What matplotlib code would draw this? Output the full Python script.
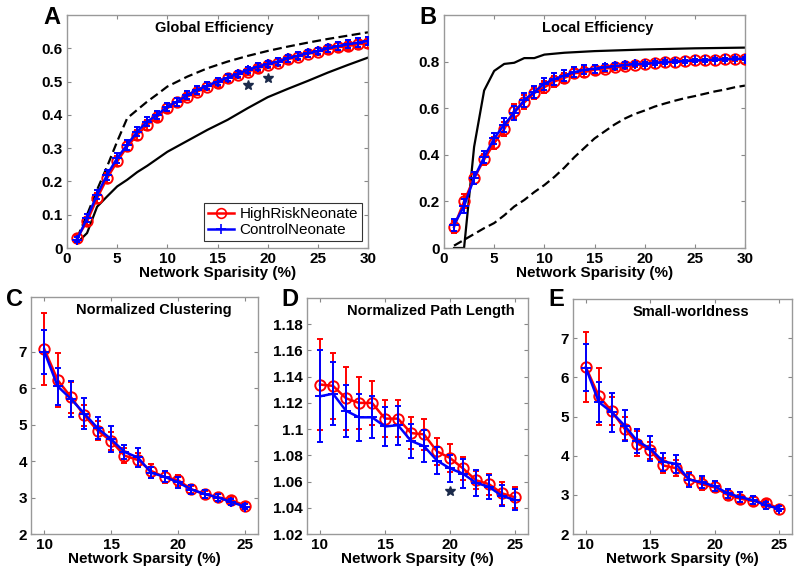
import matplotlib

matplotlib.use("Agg")
import matplotlib.pyplot as plt
from matplotlib.lines import Line2D
from matplotlib.ticker import FormatStrFormatter

plt.rcParams["font.family"] = ["Liberation Sans", "DejaVu Sans"]

# ---- data -------------------------------------------------------------
x_top = list(range(1, 31))
x_bot = list(range(10, 26))

ge_high = [0.03, 0.08, 0.15, 0.21, 0.26, 0.305, 0.34, 0.37, 0.395, 0.42,
           0.44, 0.455, 0.47, 0.485, 0.495, 0.51, 0.52, 0.53, 0.54, 0.55,
           0.557, 0.567, 0.575, 0.583, 0.59, 0.597, 0.603, 0.607, 0.612, 0.615]
ge_ctrl = [0.025, 0.09, 0.16, 0.22, 0.27, 0.31, 0.35, 0.38, 0.40, 0.425,
           0.44, 0.46, 0.475, 0.488, 0.50, 0.512, 0.523, 0.535, 0.545, 0.553,
           0.56, 0.57, 0.578, 0.585, 0.592, 0.60, 0.607, 0.612, 0.617, 0.622]
ge_err = [0.008, 0.012, 0.014, 0.015, 0.015, 0.015, 0.015, 0.014, 0.013, 0.012,
          0.012, 0.011, 0.011, 0.011, 0.01, 0.01, 0.01, 0.01, 0.01, 0.01,
          0.01, 0.01, 0.01, 0.01, 0.01, 0.01, 0.012, 0.012, 0.013, 0.013]
ge_rand_x = [1, 2, 3, 4, 5, 6, 7, 8, 9, 10, 12, 14, 16, 18, 20, 22, 24, 26, 28, 30]
ge_rand = [0.03, 0.1, 0.175, 0.245, 0.32, 0.39, 0.415, 0.44, 0.462, 0.485,
           0.515, 0.54, 0.56, 0.577, 0.592, 0.605, 0.617, 0.628, 0.638, 0.648]
ge_latt_x = [1, 2, 3, 4, 5, 6, 7, 8, 10, 12, 14, 16, 18, 20, 22, 24, 26, 28, 30]
ge_latt = [0.015, 0.045, 0.124, 0.155, 0.185, 0.205, 0.228, 0.247, 0.289, 0.322,
           0.355, 0.385, 0.42, 0.453, 0.478, 0.502, 0.527, 0.55, 0.572]
ge_star_x = [18, 20]
ge_star_y = [0.49, 0.51]

le_high = [0.09, 0.2, 0.3, 0.38, 0.45, 0.51, 0.59, 0.625, 0.665, 0.69,
           0.715, 0.73, 0.75, 0.755, 0.765, 0.77, 0.775, 0.78, 0.785, 0.79,
           0.795, 0.797, 0.8, 0.802, 0.805, 0.806, 0.808, 0.81, 0.81, 0.812]
le_ctrl = [0.1, 0.18, 0.3, 0.39, 0.47, 0.53, 0.58, 0.635, 0.67, 0.705,
           0.725, 0.74, 0.755, 0.765, 0.77, 0.775, 0.78, 0.785, 0.79, 0.79,
           0.795, 0.797, 0.8, 0.802, 0.805, 0.806, 0.808, 0.81, 0.812, 0.812]
le_err = [0.025, 0.03, 0.025, 0.025, 0.025, 0.03, 0.03, 0.03, 0.025, 0.025,
          0.025, 0.022, 0.02, 0.02, 0.017, 0.015, 0.013, 0.012, 0.01, 0.01,
          0.008, 0.008, 0.007, 0.007, 0.006, 0.006, 0.006, 0.006, 0.006, 0.006]
le_latt_x = [1, 2, 3, 4, 5, 6, 7, 8, 9, 10, 12, 15, 20, 25, 30]
le_latt = [0.0, 0.0, 0.434, 0.676, 0.76, 0.79, 0.795, 0.815, 0.815, 0.83,
           0.838, 0.845, 0.852, 0.857, 0.86]
le_rand = [0.01, 0.035, 0.06, 0.085, 0.107, 0.14, 0.178, 0.206, 0.24, 0.27,
           0.305, 0.345, 0.39, 0.43, 0.47, 0.5, 0.53, 0.555, 0.575, 0.59,
           0.607, 0.62, 0.632, 0.643, 0.652, 0.662, 0.672, 0.68, 0.69, 0.697]

cl_high = [7.07, 6.22, 5.75, 5.25, 4.83, 4.55, 4.15, 4.03, 3.73, 3.56,
           3.48, 3.23, 3.09, 3.01, 2.93, 2.78]
cl_high_err = [0.98, 0.75, 0.42, 0.3, 0.26, 0.25, 0.2, 0.2, 0.2, 0.15,
               0.15, 0.1, 0.1, 0.1, 0.08, 0.06]
cl_ctrl = [7.0, 6.05, 5.7, 5.3, 4.9, 4.6, 4.25, 4.1, 3.68, 3.57,
           3.42, 3.22, 3.1, 3.0, 2.88, 2.75]
cl_ctrl_err = [0.6, 0.5, 0.5, 0.42, 0.3, 0.35, 0.2, 0.25, 0.15, 0.15,
               0.15, 0.12, 0.12, 0.1, 0.08, 0.06]

pl_high = [1.134, 1.133, 1.1235, 1.12, 1.12, 1.108, 1.108, 1.097, 1.096, 1.083,
           1.078, 1.07, 1.061, 1.058, 1.051, 1.048]
pl_high_err = [0.035, 0.025, 0.024, 0.02, 0.017, 0.014, 0.014, 0.012, 0.012, 0.01,
               0.011, 0.009, 0.007, 0.008, 0.009, 0.008]
pl_ctrl = [1.125, 1.127, 1.114, 1.109, 1.109, 1.102, 1.103, 1.091, 1.087, 1.076,
           1.07, 1.066, 1.059, 1.056, 1.049, 1.046]
pl_ctrl_err = [0.035, 0.024, 0.02, 0.018, 0.016, 0.015, 0.015, 0.013, 0.012, 0.01,
               0.01, 0.011, 0.01, 0.009, 0.008, 0.008]
pl_star_x = [20]
pl_star_y = [1.053]

sw_high = [6.26, 5.52, 5.14, 4.69, 4.31, 4.14, 3.75, 3.68, 3.41, 3.27,
           3.19, 3.0, 2.9, 2.84, 2.79, 2.65]
sw_high_err = [0.9, 0.73, 0.35, 0.3, 0.32, 0.22, 0.2, 0.2, 0.18, 0.15,
               0.13, 0.12, 0.1, 0.1, 0.08, 0.07]
sw_ctrl = [6.24, 5.37, 5.11, 4.77, 4.37, 4.18, 3.85, 3.79, 3.39, 3.32,
           3.22, 3.04, 2.94, 2.86, 2.73, 2.65]
sw_ctrl_err = [0.6, 0.5, 0.5, 0.4, 0.3, 0.32, 0.23, 0.23, 0.18, 0.15,
               0.13, 0.12, 0.12, 0.1, 0.08, 0.07]

RED = "#FF0000"
BLUE = "#0000FF"
STAR = "#1B2A4A"
W, H = 797, 570


def px_axes(fig, left, top, right, bottom):
    return fig.add_axes([left / W, 1 - bottom / H, (right - left) / W, (bottom - top) / H])


def style(ax, xlim, ylim, xticks, yticks, xlabel, title, title_x):
    ax.set_xlim(*xlim)
    ax.set_ylim(*ylim)
    ax.set_xticks(xticks)
    ax.set_yticks(yticks)
    ax.yaxis.set_major_formatter(FormatStrFormatter("%g"))
    ax.tick_params(direction="in", length=3, width=0.8, color="#888888",
                   top=True, right=True, labelsize=11, pad=3)
    for lab in ax.get_xticklabels() + ax.get_yticklabels():
        lab.set_fontweight("bold")
    for sp in ax.spines.values():
        sp.set_color("#999999")
        sp.set_linewidth(1.0)
    ax.set_xlabel(xlabel, fontsize=11, fontweight="bold", labelpad=0)
    ax.text(title_x, 0.945, title, transform=ax.transAxes, ha="center", va="center",
            fontsize=10.5, fontweight="bold")


def groups(ax, x, high, high_err, ctrl, ctrl_err):
    ax.errorbar(x, high, yerr=high_err, color=RED, marker="o", ms=7.5, mfc="none",
                mew=1.4, lw=1.8, capsize=2, elinewidth=1.4, zorder=3)
    ax.errorbar(x, ctrl, yerr=ctrl_err, color=BLUE, marker="+", ms=7,
                mew=1.4, lw=1.8, capsize=2, elinewidth=1.4, zorder=4)


fig = plt.figure(figsize=(W / 100, H / 100), dpi=100)

# A: global efficiency
ax = px_axes(fig, 67, 15, 368, 248)
ax.plot(ge_rand_x, ge_rand, color="black", lw=1.6, ls=(0, (4, 2)), zorder=2)
ax.plot(ge_latt_x, ge_latt, color="black", lw=1.6, zorder=2)
groups(ax, x_top, ge_high, ge_err, ge_ctrl, ge_err)
ax.plot(ge_star_x, ge_star_y, ls="none", marker="*", ms=7, color=STAR)
style(ax, (0, 30), (0, 0.7), range(0, 31, 5), [0, 0.1, 0.2, 0.3, 0.4, 0.5, 0.6],
      "Network Sparisity (%)", "Global Efficiency", 0.49)
handles = [Line2D([], [], color=RED, marker="o", mfc="none", ms=7, mew=1.2, lw=1.8),
           Line2D([], [], color=BLUE, marker="+", ms=7, mew=1.2, lw=1.8)]
leg = ax.legend(handles, ["HighRiskNeonate", "ControlNeonate"], loc="lower right",
                fontsize=11, frameon=True, fancybox=False, handlelength=1.7,
                borderpad=0.25, labelspacing=0.15, handletextpad=0.4,
                borderaxespad=0.0, bbox_to_anchor=(0.98, 0.03))
leg.get_frame().set_edgecolor("black")
leg.get_frame().set_linewidth(0.8)

# B: local efficiency
ax = px_axes(fig, 444, 15, 745, 248)
ax.plot(x_top, le_rand, color="black", lw=1.6, ls=(0, (4, 2)), zorder=2)
ax.plot(le_latt_x, le_latt, color="black", lw=1.6, zorder=2)
groups(ax, x_top, le_high, le_err, le_ctrl, le_err)
style(ax, (0, 30), (0, 1.0), range(0, 31, 5), [0, 0.2, 0.4, 0.6, 0.8],
      "Network Sparisity (%)", "Local Efficiency", 0.51)

# C: normalized clustering
ax = px_axes(fig, 31, 297, 258, 534)
groups(ax, x_bot, cl_high, cl_high_err, cl_ctrl, cl_ctrl_err)
style(ax, (9, 26), (2, 8.5), [10, 15, 20, 25], [2, 3, 4, 5, 6, 7],
      "Network Sparsity (%)", "Normalized Clustering", 0.54)

# D: normalized path length
ax = px_axes(fig, 307, 298, 528, 534)
groups(ax, x_bot, pl_high, pl_high_err, pl_ctrl, pl_ctrl_err)
ax.plot(pl_star_x, pl_star_y, ls="none", marker="*", ms=7, color=STAR)
style(ax, (9, 26), (1.02, 1.2), [10, 15, 20, 25],
      [1.02, 1.04, 1.06, 1.08, 1.1, 1.12, 1.14, 1.16, 1.18],
      "Network Sparsity (%)", "Normalized Path Length", 0.56)

# E: small-worldness
ax = px_axes(fig, 573, 299, 792, 534)
groups(ax, x_bot, sw_high, sw_high_err, sw_ctrl, sw_ctrl_err)
style(ax, (9, 26), (2, 8), [10, 15, 20, 25], [2, 3, 4, 5, 6, 7],
      "Network Sparsity (%)", "Small-worldness", 0.54)

for letter, lx, ly in [("A", 52, 17), ("B", 428, 17), ("C", 15, 300),
                       ("D", 290, 299), ("E", 556, 299)]:
    fig.text(lx / W, 1 - ly / H, letter, fontsize=17, fontweight="bold",
             ha="center", va="center")

fig.savefig("out.png", dpi=100)
plt.close(fig)
